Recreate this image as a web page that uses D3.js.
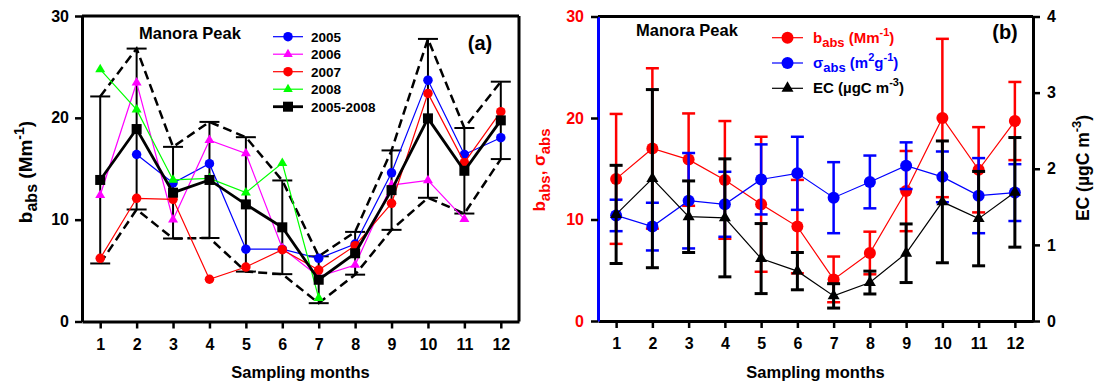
<!DOCTYPE html>
<html>
<head>
<meta charset="utf-8">
<script src="https://cdn.jsdelivr.net/npm/d3@7"></script>
<style>
  html, body { margin: 0; padding: 0; background: #fff; }
  svg { display: block; }
  text { font-family: "Liberation Sans", Arial, sans-serif; font-weight: bold; }
</style>
</head>
<body>
<svg id="chart" width="1095" height="384"></svg>
<script>
// ---- data ----
const months = [1, 2, 3, 4, 5, 6, 7, 8, 9, 10, 11, 12];
const monthTicks = [1, 2, 3, 4, 5, 6, 7, 8, 9, 10, 11, 12];
const leftTicks = [0, 10, 20, 30];
const ecTicks = [0, 1, 2, 3, 4];

// panel (a): monthly b_abs per year (Mm-1)
const babs2005 = [null, 16.4, 13.6, 15.5, 7.1, 7.1, 6.2, 7.6, 14.6, 23.7, 16.4, 18.05];
const babs2006 = [12.4, 23.45, 10.0, 17.8, 16.5, 7.2, 4.4, 5.55, 13.4, 13.85, 10.05, null];
const babs2007 = [6.2, 12.1, 12.0, 4.15, 5.35, 7.05, 5.05, 7.45, 11.6, 22.4, 15.6, 20.6];
const babs2008 = [24.75, 20.8, 13.9, 14.05, 12.65, 15.55, 2.3, null, null, null, null, null];
const babsMean = [13.9, 18.9, 12.65, 13.9, 11.5, 9.25, 4.1, 6.7, 12.9, 19.95, 14.8, 19.75];
const babsMeanSd = [8.2, 7.9, 4.5, 5.7, 6.6, 4.6, 2.3, 2.1, 3.9, 7.8, 4.2, 3.8];

// panel (b): b_abs, sigma_abs and EC with their standard deviations
const babsB = [14.0, 17.0, 15.9, 13.9, 11.5, 9.3, 4.1, 6.7, 12.8, 20.0, 14.9, 19.7];
const babsBSd = [6.4, 7.9, 4.55, 5.8, 6.65, 4.6, 2.25, 2.1, 3.95, 7.8, 4.2, 3.85];
const sigmaAbs = [10.4, 9.3, 11.85, 11.5, 13.95, 14.55, 12.15, 13.7, 15.3, 14.2, 12.35, 12.65];
const sigmaAbsSd = [1.55, 2.35, 4.7, 3.2, 3.45, 3.6, 3.5, 2.6, 2.3, 2.5, 3.7, 2.8];
const ec = [1.40, 1.87, 1.37, 1.355, 0.82, 0.655, 0.33, 0.505, 0.89, 1.565, 1.345, 1.69];
const ecSd = [0.645, 1.17, 0.47, 0.775, 0.46, 0.245, 0.16, 0.15, 0.385, 0.8, 0.62, 0.72];

const svg = d3.select("#chart");

// ---- marker helpers ----
function drawMarker(g, shape, x, y, color, size) {
  if (shape === "circle") {
    g.append("circle").attr("cx", x).attr("cy", y).attr("r", size / 2).attr("fill", color);
  } else if (shape === "square") {
    g.append("rect").attr("x", x - size / 2).attr("y", y - size / 2)
      .attr("width", size).attr("height", size).attr("fill", color);
  } else {
    const area = Math.sqrt(3) / 4 * size * size;
    g.append("path").attr("d", d3.symbol(d3.symbolTriangle, area)())
      .attr("transform", `translate(${x},${y})`).attr("fill", color);
  }
}

function styleAxis(g, fontSize, labelColor, domainColor) {
  g.select(".domain").attr("stroke", domainColor).attr("stroke-width", 3);
  g.selectAll(".tick line").attr("stroke", "#000").attr("stroke-width", 2.5);
  g.selectAll(".tick text").attr("fill", labelColor)
    .style("font-size", fontSize + "px").style("font-weight", "bold")
    .style("font-family", '"Liberation Sans", Arial, sans-serif');
}

const intFmt = d3.format("d");

// ================= panel (a) =================
const A = { left: 82, right: 519, top: 16, bottom: 321.5 };
const xa = d3.scaleLinear().domain([0.5, 12.5]).range([A.left, A.right]);
const ya = d3.scaleLinear().domain([0, 30]).range([A.bottom, A.top]);

const ga = svg.append("g");

// frame top and right
ga.append("line").attr("x1", A.left).attr("x2", A.right).attr("y1", A.top).attr("y2", A.top)
  .attr("stroke", "#000").attr("stroke-width", 3);
ga.append("line").attr("x1", A.right).attr("x2", A.right).attr("y1", A.top).attr("y2", A.bottom)
  .attr("stroke", "#000").attr("stroke-width", 3);

const axA = ga.append("g").attr("transform", `translate(${A.left},0)`)
  .call(d3.axisLeft(ya).tickValues(leftTicks).tickFormat(intFmt).tickSize(7).tickSizeOuter(0).tickPadding(6));
styleAxis(axA, 16, "#000", "#000");
const axAx = ga.append("g").attr("transform", `translate(0,${A.bottom})`)
  .call(d3.axisBottom(xa).tickValues(monthTicks).tickFormat(intFmt).tickSize(7).tickSizeOuter(0).tickPadding(10));
styleAxis(axAx, 16, "#000", "#000");

// envelope of mean +/- sd (dashed)
const upperA = months.map((m, i) => ({ m, v: babsMean[i] + babsMeanSd[i] }));
const lowerA = months.map((m, i) => ({ m, v: babsMean[i] - babsMeanSd[i] }));
const envLine = d3.line().x(d => xa(d.m)).y(d => ya(d.v));
[upperA, lowerA].forEach(pts => {
  ga.append("path").attr("d", envLine(pts)).attr("fill", "none")
    .attr("stroke", "#000").attr("stroke-width", 2.5).attr("stroke-dasharray", "9,5");
});

// error bars of the mean
months.forEach((m, i) => {
  const x = xa(m), y1 = ya(babsMean[i] + babsMeanSd[i]), y2 = ya(babsMean[i] - babsMeanSd[i]);
  ga.append("line").attr("x1", x).attr("x2", x).attr("y1", y1).attr("y2", y2)
    .attr("stroke", "#000").attr("stroke-width", 2);
  [y1, y2].forEach(yy => ga.append("line").attr("x1", x - 10).attr("x2", x + 10)
    .attr("y1", yy).attr("y2", yy).attr("stroke", "#000").attr("stroke-width", 2));
});

const yearSeries = [
  { name: "2005", color: "#0000ff", shape: "circle", values: babs2005, size: 9.5 },
  { name: "2006", color: "#ff00ff", shape: "triangle", values: babs2006, size: 10 },
  { name: "2007", color: "#ff0000", shape: "circle", values: babs2007, size: 9.5 },
  { name: "2008", color: "#00ff00", shape: "triangle", values: babs2008, size: 10 }
];
const lineA = d3.line().defined(d => d.v != null).x(d => xa(d.m)).y(d => ya(d.v));
yearSeries.forEach(s => {
  const pts = months.map((m, i) => ({ m, v: s.values[i] }));
  ga.append("path").attr("d", lineA(pts)).attr("fill", "none")
    .attr("stroke", s.color).attr("stroke-width", 1.2);
  pts.filter(p => p.v != null).forEach(p => drawMarker(ga, s.shape, xa(p.m), ya(p.v), s.color, s.size));
});

// 2005-2008 mean
const meanPts = months.map((m, i) => ({ m, v: babsMean[i] }));
ga.append("path").attr("d", lineA(meanPts)).attr("fill", "none")
  .attr("stroke", "#000").attr("stroke-width", 2.8);
meanPts.forEach(p => drawMarker(ga, "square", xa(p.m), ya(p.v), "#000", 10));

// legend (a)
const legA = yearSeries.concat([{ name: "2005-2008", color: "#000", shape: "square", size: 10, thick: true }]);
legA.forEach((s, i) => {
  const y = 36.7 + i * 17.5;
  ga.append("line").attr("x1", 273).attr("x2", 303).attr("y1", y).attr("y2", y)
    .attr("stroke", s.color).attr("stroke-width", s.thick ? 2.8 : 1.2);
  drawMarker(ga, s.shape, 288, y, s.color, s.shape === "triangle" ? 9.5 : s.size);
  ga.append("text").attr("x", 311).attr("y", y + 5).style("font-size", "13.5px").text(s.name);
});

ga.append("text").attr("x", 190).attr("y", 39).attr("text-anchor", "middle")
  .style("font-size", "16.5px").text("Manora Peak");
ga.append("text").attr("x", 480).attr("y", 50).attr("text-anchor", "middle")
  .style("font-size", "20px").text("(a)");

// axis titles (a)
const ylabA = ga.append("text").attr("transform", `translate(32,172) rotate(-90)`)
  .attr("text-anchor", "middle").style("font-size", "19px");
ylabA.append("tspan").text("b");
ylabA.append("tspan").attr("dy", 5).style("font-size", "16px").text("abs");
ylabA.append("tspan").attr("dy", -5).text(" (Mm");
ylabA.append("tspan").attr("dy", -8).style("font-size", "14px").text("-1");
ylabA.append("tspan").attr("dy", 8).text(")");

ga.append("text").attr("x", (A.left + A.right) / 2).attr("y", 378).attr("text-anchor", "middle")
  .style("font-size", "16.5px").text("Sampling months");

// ================= panel (b) =================
const B = { left: 598, right: 1033, top: 16.5, bottom: 321 };
const xb = d3.scaleLinear().domain([0.5, 12.5]).range([B.left, B.right]);
const yb = d3.scaleLinear().domain([0, 30]).range([B.bottom, B.top]);
const yec = d3.scaleLinear().domain([0, 4]).range([B.bottom, B.top]);

const gb = svg.append("g");

gb.append("line").attr("x1", B.left).attr("x2", B.right).attr("y1", B.top).attr("y2", B.top)
  .attr("stroke", "#000").attr("stroke-width", 3);

const axBl = gb.append("g").attr("transform", `translate(${B.left},0)`)
  .call(d3.axisLeft(yb).tickValues(leftTicks).tickFormat(intFmt).tickSize(7).tickSizeOuter(0).tickPadding(7));
styleAxis(axBl, 16, "#ff0000", "#0000ff");
const axBr = gb.append("g").attr("transform", `translate(${B.right},0)`)
  .call(d3.axisRight(yec).tickValues(ecTicks).tickFormat(intFmt).tickSize(7).tickSizeOuter(0).tickPadding(7));
styleAxis(axBr, 16, "#000", "#000");
const axBx = gb.append("g").attr("transform", `translate(0,${B.bottom})`)
  .call(d3.axisBottom(xb).tickValues(monthTicks).tickFormat(intFmt).tickSize(7).tickSizeOuter(0).tickPadding(10));
styleAxis(axBx, 16, "#000", "#000");
// keep the blue left axis drawn over the black baseline corner
axBl.raise();

const seriesB = [
  { values: babsB, sd: babsBSd, scale: yb, color: "#ff0000", shape: "circle", size: 12, bw: 2.5 },
  { values: sigmaAbs, sd: sigmaAbsSd, scale: yb, color: "#0000ff", shape: "circle", size: 12, bw: 2.5 },
  { values: ec, sd: ecSd, scale: yec, color: "#000", shape: "triangle", size: 12, bw: 3 }
];
seriesB.forEach(s => {
  const gs = gb.append("g");
  months.forEach((m, i) => {
    const x = xb(m), y1 = s.scale(s.values[i] + s.sd[i]), y2 = s.scale(s.values[i] - s.sd[i]);
    gs.append("line").attr("x1", x).attr("x2", x).attr("y1", y1).attr("y2", y2)
      .attr("stroke", s.color).attr("stroke-width", s.bw);
    [y1, y2].forEach(yy => gs.append("line").attr("x1", x - 6.5).attr("x2", x + 6.5)
      .attr("y1", yy).attr("y2", yy).attr("stroke", s.color).attr("stroke-width", s.bw));
  });
  const ln = d3.line().x((d, i) => xb(months[i])).y(d => s.scale(d));
  gs.append("path").attr("d", ln(s.values)).attr("fill", "none")
    .attr("stroke", s.color).attr("stroke-width", 1.2);
  s.values.forEach((v, i) => drawMarker(gs, s.shape, xb(months[i]), s.scale(v), s.color, s.size));
});

gb.append("text").attr("x", 687).attr("y", 36).attr("text-anchor", "middle")
  .style("font-size", "16.5px").text("Manora Peak");
gb.append("text").attr("x", 1005).attr("y", 39).attr("text-anchor", "middle")
  .style("font-size", "20px").text("(b)");

// legend (b)
const legB = [
  { color: "#ff0000", shape: "circle", parts: [["b", 0, 15], ["abs", 4, 13], [" (Mm", -4, 15], ["-1", -7, 11], [")", 7, 15]] },
  { color: "#0000ff", shape: "circle", parts: [["σ", 0, 15], ["abs", 4, 13], [" (m", -4, 15], ["2", -7, 11], ["g", 7, 15], ["-1", -7, 11], [")", 7, 15]] },
  { color: "#000", shape: "triangle", parts: [["EC (µgC m", 0, 15], ["-3", -7, 11], [")", 7, 15]] }
];
legB.forEach((s, i) => {
  const y = 37.7 + i * 25.3;
  gb.append("line").attr("x1", 772).attr("x2", 803).attr("y1", y).attr("y2", y)
    .attr("stroke", s.color).attr("stroke-width", 1.2);
  drawMarker(gb, s.shape, 787.5, y, s.color, 12);
  const t = gb.append("text").attr("x", 813).attr("y", y + 5).attr("fill", s.color);
  s.parts.forEach(p => t.append("tspan").attr("dy", p[1]).style("font-size", p[2] + "px").text(p[0]));
});

// axis titles (b)
const ylabB = gb.append("text").attr("transform", `translate(545,170) rotate(-90)`)
  .attr("text-anchor", "middle").attr("fill", "#ff0000").style("font-size", "17px");
ylabB.append("tspan").text("b");
ylabB.append("tspan").attr("dy", 5).style("font-size", "15px").text("abs");
ylabB.append("tspan").attr("dy", -5).text(", σ");
ylabB.append("tspan").attr("dy", 5).style("font-size", "15px").text("abs");

const ylabEC = gb.append("text").attr("transform", `translate(1089,168) rotate(-90)`)
  .attr("text-anchor", "middle").style("font-size", "17.5px");
ylabEC.append("tspan").text("EC (µgC m");
ylabEC.append("tspan").attr("dy", -8).style("font-size", "13px").text("-3");
ylabEC.append("tspan").attr("dy", 8).text(")");

gb.append("text").attr("x", (B.left + B.right) / 2).attr("y", 378).attr("text-anchor", "middle")
  .style("font-size", "16.5px").text("Sampling months");
</script>
</body>
</html>
